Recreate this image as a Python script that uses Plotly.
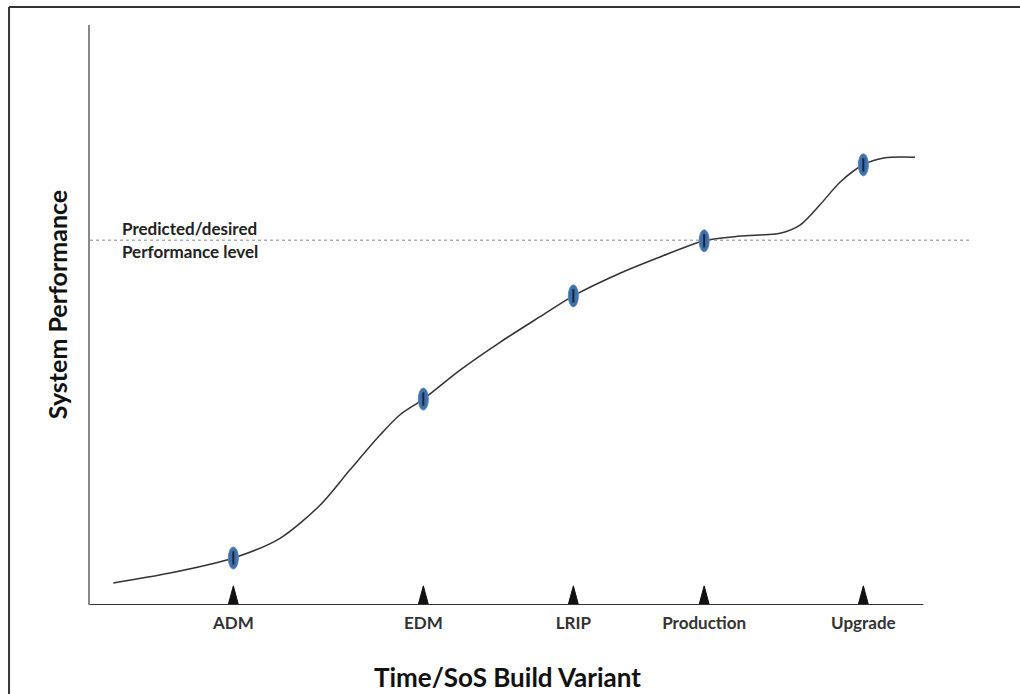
import plotly.graph_objects as go

# ---- data ----
curve_x = [2.8, 9.6, 17.2, 22.8, 27.6, 31.2, 34.8, 37.2, 40.0, 44.4, 49.2, 54.0, 58.0,
           63.6, 68.4, 73.7, 78.0, 82.8, 85.2, 87.6, 90.0, 92.8, 95.4, 99.0]
curve_y = [3.8, 5.5, 8.1, 11.5, 17.2, 23.3, 29.3, 32.8, 35.5, 40.5, 45.3, 49.7, 53.3,
           57.2, 60.0, 62.8, 63.6, 64.1, 65.5, 69.0, 72.9, 75.9, 77.1, 77.2]
milestones = ["ADM", "EDM", "LRIP", "Production", "Upgrade"]
milestone_x = [17.2, 40.0, 58.0, 73.7, 92.8]
milestone_y = [8.1, 35.5, 53.3, 62.8, 75.9]
desired_level = 62.9
x_end = 100.0

FONT = "Lato"

fig = go.Figure()

# curve
fig.add_trace(go.Scatter(x=curve_x, y=curve_y, mode="lines",
                         line=dict(color="#333333", width=1.5, shape="spline", smoothing=0.8),
                         hoverinfo="skip", showlegend=False))

# triangles at milestones (built from milestone x)
tri_x, tri_y = [], []
hw, th = 0.62, 3.3
for mx in milestone_x:
    tri_x += [mx - hw, mx, mx + hw, mx - hw, None]
    tri_y += [0, th, 0, 0, None]
fig.add_trace(go.Scatter(x=tri_x, y=tri_y, mode="lines", fill="toself",
                         fillcolor="#111111", line=dict(color="#111111", width=1),
                         hoverinfo="skip", showlegend=False))

shapes = []
# desired level dotted line
shapes.append(dict(type="line", xref="x", yref="y", x0=0, x1=105.6,
                   y0=desired_level, y1=desired_level,
                   line=dict(color="#888888", width=1, dash="dot")))
# x axis baseline
shapes.append(dict(type="line", xref="x", yref="y", x0=0, x1=x_end, y0=0, y1=0,
                   line=dict(color="#333333", width=2)))
# milestone ellipses
ex, ey = 0.6, 1.9
for mx, my in zip(milestone_x, milestone_y):
    shapes.append(dict(type="circle", xref="x", yref="y", x0=mx - ex, x1=mx + ex,
                       y0=my - ey, y1=my + ey, fillcolor="#3f6fa8",
                       line=dict(color="#5a86bb", width=1), layer="above"))
    shapes.append(dict(type="line", xref="x", yref="y", x0=mx, x1=mx,
                       y0=my - ey * 0.6, y1=my + ey * 0.6,
                       line=dict(color="#16263d", width=2), layer="above"))
# outer frame (top and left)
shapes.append(dict(type="line", xref="paper", yref="paper", x0=-0.092, x1=1.06,
                   y0=1.031, y1=1.031, line=dict(color="#333333", width=2)))
shapes.append(dict(type="line", xref="paper", yref="paper", x0=-0.092, x1=-0.092,
                   y0=1.031, y1=-0.16, line=dict(color="#333333", width=2)))

annotations = [
    dict(text="<b>Predicted/desired</b>", x=3.6, y=65.0, xref="x", yref="y",
         xanchor="left", yanchor="middle", showarrow=False,
         font=dict(family=FONT, size=17, color="#222222")),
    dict(text="<b>Performance level</b>", x=3.6, y=60.9, xref="x", yref="y",
         xanchor="left", yanchor="middle", showarrow=False,
         font=dict(family=FONT, size=17, color="#222222")),
    dict(text="<b>Time/SoS Build Variant</b>", x=0.474, y=-0.124, xref="paper", yref="paper",
         xanchor="center", yanchor="middle", showarrow=False,
         font=dict(family=FONT, size=26, color="#111111")),
    dict(text="<b>System Performance</b>", x=-0.0375, y=0.517, xref="paper", yref="paper",
         xanchor="center", yanchor="middle", showarrow=False, textangle=-90,
         font=dict(family=FONT, size=25, color="#111111")),
]

fig.update_layout(
    width=1020, height=694,
    margin=dict(l=90, r=50, t=25, b=89),
    paper_bgcolor="white", plot_bgcolor="white",
    shapes=shapes, annotations=annotations,
    xaxis=dict(range=[0, 105.6], showgrid=False, zeroline=False, showline=False,
               tickvals=milestone_x, ticktext=["<b>%s</b>" % m for m in milestones],
               ticks="", tickfont=dict(family=FONT, size=17, color="#333333"),
               ticklabelstandoff=6, fixedrange=True),
    yaxis=dict(range=[0, 100], showgrid=False, zeroline=False, showline=True,
               linecolor="#888888", linewidth=2, showticklabels=False, ticks="",
               fixedrange=True),
)

fig.write_html("out.html", config={"displayModeBar": False},
               post_script="document.body.style.margin='0';document.body.style.overflow='hidden';")
